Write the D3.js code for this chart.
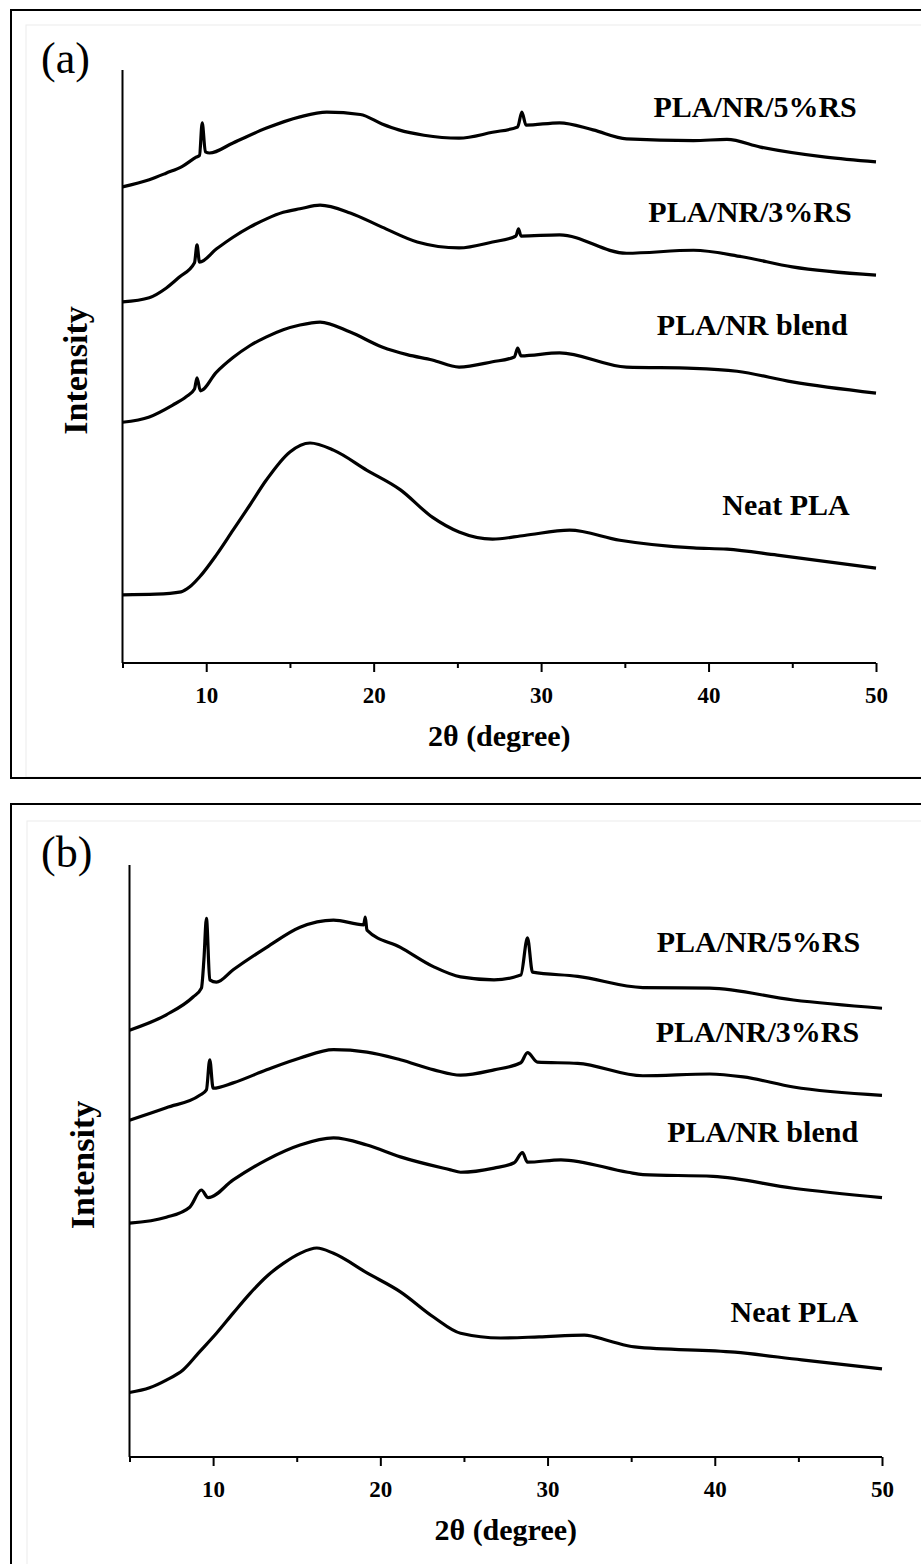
<!DOCTYPE html>
<html>
<head>
<meta charset="utf-8">
<script src="https://cdn.jsdelivr.net/npm/d3@7"></script>
<style>
body { margin: 0; background: #fff; }
svg text { font-family: "Liberation Serif", "Times New Roman", serif; fill: #000; }
</style>
</head>
<body>
<script>
// XRD patterns, 2theta (degree) vs intensity (a.u., stacked offsets)

// ---- panel (a)
const neatA_x = [5, 7, 8.5, 9.0, 9.6, 10.6, 11.6, 12.6, 13.6, 15.0, 16.2, 17.6, 19.6, 21.6, 23.5, 25.1, 27.1, 29.0, 31.7, 34.7, 39.1, 41.1, 44.1, 50];
const neatA_y = [11.5, 11.6, 12.0, 12.8, 14.5, 18.2, 22.4, 26.6, 30.9, 35.6, 37.1, 35.9, 32.5, 29.2, 24.6, 22.1, 20.9, 21.5, 22.4, 20.7, 19.4, 19.2, 18.2, 16.0];

const blendA_x = [5, 6.6, 8.0, 8.8, 9.3, 9.45, 9.65, 10.6, 11.6, 12.6, 13.6, 14.6, 15.6, 16.8, 18.6, 20.5, 22.0, 23.5, 25.1, 27.1, 28.4, 28.6, 28.8, 31.1, 35.1, 39.1, 41.7, 45, 50];
const blendA_y = [40.6, 41.5, 43.5, 44.9, 46.2, 48.1, 45.9, 49.0, 51.5, 53.5, 55.0, 56.2, 57.0, 57.5, 55.8, 53.3, 52.0, 51.1, 49.9, 50.8, 51.6, 53.1, 51.8, 52.3, 49.9, 49.7, 49.2, 47.4, 45.5];

const rs3A_x = [5, 6.6, 7.6, 8.4, 9.3, 9.45, 9.6, 10.6, 11.6, 12.6, 13.6, 14.6, 15.6, 16.8, 18.6, 20.5, 22.6, 25.1, 27.1, 28.5, 28.65, 28.8, 31.1, 35.1, 39.1, 42, 45, 50];
const rs3A_y = [60.9, 61.6, 63.2, 65.1, 67.5, 70.5, 67.6, 69.8, 71.8, 73.5, 74.9, 76.0, 76.6, 77.2, 75.9, 73.5, 71.0, 70.0, 71.0, 72.0, 73.2, 72.0, 72.2, 69.1, 69.6, 68.5, 66.8, 65.4];

const rs5A_x = [5, 6.6, 7.6, 8.6, 9.4, 9.6, 9.76, 9.95, 10.2, 11.6, 13.6, 15.6, 17.2, 19.2, 20.5, 21.5, 23.0, 25.1, 27.1, 28.6, 28.85, 29.1, 31.1, 33.1, 35.1, 39.1, 41.1, 43.1, 47, 50];
const rs5A_y = [80.3, 81.5, 82.6, 83.8, 85.3, 85.6, 91.1, 86.2, 86.0, 87.7, 90.2, 92.1, 92.9, 92.5, 90.9, 89.9, 89.0, 88.5, 89.5, 90.4, 92.9, 90.7, 91.1, 89.9, 88.4, 88.1, 88.3, 87.0, 85.3, 84.5];

// ---- panel (b)
const neatB_x = [5, 6.2, 7.2, 8.2, 9.2, 10.2, 11.2, 12.2, 13.2, 14.2, 15.2, 16.2, 17.2, 19.2, 21.2, 23.2, 24.8, 27.2, 29.5, 32.2, 33.7, 35.2, 41.2, 45.2, 50];
const neatB_y = [10.9, 11.7, 13.0, 14.7, 17.8, 20.9, 24.3, 27.6, 30.5, 32.7, 34.4, 35.3, 34.4, 31.1, 27.9, 23.6, 20.9, 20.1, 20.3, 20.6, 19.6, 18.6, 17.7, 16.4, 14.9];

const blendB_x = [5, 7.2, 8.6, 9.3, 9.7, 11.2, 13.2, 15.2, 17.2, 19.2, 21.2, 24.2, 24.8, 26.8, 28.0, 28.5, 28.8, 30.8, 34.8, 35.7, 39.9, 44.7, 50];
const blendB_y = [39.5, 40.5, 42.2, 45.1, 43.8, 46.8, 50.2, 52.7, 53.9, 52.7, 50.7, 48.5, 48.1, 48.8, 49.7, 51.4, 49.8, 50.2, 48.1, 47.7, 47.4, 45.4, 43.8];

const rs3B_x = [5, 7.2, 9.2, 9.6, 9.8, 10.0, 11.2, 13.2, 15.2, 17.2, 19.2, 21.2, 23.2, 24.8, 26.8, 28.4, 28.8, 29.4, 31.8, 35.7, 39.7, 41.7, 44.7, 50];
const rs3B_y = [56.9, 59.0, 61.1, 62.0, 67.1, 62.3, 63.2, 65.4, 67.4, 68.8, 68.4, 67.1, 65.4, 64.5, 65.4, 66.6, 68.3, 66.7, 66.5, 64.4, 64.7, 64.2, 62.5, 61.1];

const rs5B_x = [5, 7.2, 8.8, 9.3, 9.45, 9.6, 9.8, 10.2, 11.2, 13.2, 15.2, 17.2, 19.0, 19.1, 19.2, 21.2, 23.2, 24.8, 26.8, 28.4, 28.8, 29.1, 31.8, 35.7, 39.7, 44.7, 50];
const rs5B_y = [72.1, 74.7, 77.7, 79.2, 84.0, 91.0, 80.6, 80.2, 82.3, 86.1, 89.5, 90.7, 89.9, 91.2, 89.0, 86.1, 82.8, 81.1, 80.6, 81.4, 87.7, 81.9, 81.2, 79.3, 79.2, 77.2, 75.8];

const seriesNames = ['Neat PLA', 'PLA/NR blend', 'PLA/NR/3%RS', 'PLA/NR/5%RS'];
const tickValues = [5, 10, 15, 20, 25, 30, 35, 40, 45, 50];
const tickLabels = ['', '10', '', '20', '', '30', '', '40', '', '50'];

const toPoints = (xs, ys) => xs.map((x, i) => ({x: x, y: ys[i]}));

const panels = [
  {
    tag: '(a)', box: {x: 11, y: 10, h: 768}, inner: {x: 26, y: 25, h: 752},
    left: 122.5, right: 876, top: 70, bottom: 663,
    series: [toPoints(neatA_x, neatA_y), toPoints(blendA_x, blendA_y), toPoints(rs3A_x, rs3A_y), toPoints(rs5A_x, rs5A_y)],
    // label anchors (end of text, baseline) in data units
    labelAt: [[48.43, 25.0], [48.31, 55.3], [48.55, 74.4], [48.85, 92.1]]
  },
  {
    tag: '(b)', box: {x: 11, y: 804, h: 800}, inner: {x: 27, y: 821, h: 800},
    left: 129.5, right: 882, top: 865, bottom: 1457,
    series: [toPoints(neatB_x, neatB_y), toPoints(blendB_x, blendB_y), toPoints(rs3B_x, rs3B_y), toPoints(rs5B_x, rs5B_y)],
    labelAt: [[48.57, 22.8], [48.57, 53.2], [48.63, 70.1], [48.69, 85.3]]
  }
];

const svg = d3.select('body').append('svg')
  .attr('width', 921)
  .attr('height', 1564);

svg.append('rect').attr('width', 921).attr('height', 1564).attr('fill', '#fff');

panels.forEach(p => {
  const g = svg.append('g');

  // outer frame + faint inner frame
  g.append('rect')
    .attr('x', p.inner.x).attr('y', p.inner.y)
    .attr('width', 1000).attr('height', p.inner.h)
    .attr('fill', 'none').attr('stroke', '#ececec').attr('stroke-width', 1);
  g.append('rect')
    .attr('x', p.box.x).attr('y', p.box.y)
    .attr('width', 1000).attr('height', p.box.h)
    .attr('fill', 'none').attr('stroke', '#000').attr('stroke-width', 2);

  // scales
  const xscale = d3.scaleLinear().domain([5, 50]).range([p.left, p.right]);
  const yscale = d3.scaleLinear().domain([0, 100]).range([p.bottom, p.top]);

  // x axis
  const xaxis = d3.axisBottom(xscale)
    .tickValues(tickValues)
    .tickSize(0)
    .tickFormat((d, i) => tickLabels[i]);
  const gx = g.append('g')
    .attr('transform', `translate(0,${p.bottom})`)
    .call(xaxis);
  gx.select('.domain').attr('stroke', '#000').attr('stroke-width', 2)
    .attr('d', `M${p.left},0H${p.right}`);
  gx.selectAll('.tick line')
    .attr('stroke', '#000').attr('stroke-width', 2)
    .attr('y2', (d, i) => tickLabels[i] === '' ? 5 : 9);
  gx.selectAll('.tick text')
    .attr('y', 40).attr('dy', 0)
    .attr('font-size', 23).attr('font-weight', 'bold')
    .style('font-family', '"Liberation Serif", "Times New Roman", serif');

  // y axis: plain line, no ticks
  g.append('line')
    .attr('x1', p.left).attr('x2', p.left)
    .attr('y1', p.top).attr('y2', p.bottom)
    .attr('stroke', '#000').attr('stroke-width', 2);

  // axis titles
  g.append('text')
    .attr('x', (p.left + p.right) / 2).attr('y', p.bottom + 83)
    .attr('text-anchor', 'middle')
    .attr('font-size', 30).attr('font-weight', 'bold')
    .text('2θ (degree)');
  g.append('text')
    .attr('transform', `translate(${p.left - 36},${(p.top + p.bottom) / 2 + 4}) rotate(-90)`)
    .attr('text-anchor', 'middle')
    .attr('font-size', 34).attr('font-weight', 'bold')
    .text('Intensity');

  // panel tag
  g.append('text')
    .attr('x', 41).attr('y', p.box.y + 63)
    .attr('font-size', 44)
    .text(p.tag);

  // patterns
  const line = d3.line()
    .x(d => xscale(d.x))
    .y(d => yscale(d.y))
    .curve(d3.curveMonotoneX);

  g.selectAll('path.pattern')
    .data(p.series)
    .join('path')
    .attr('class', 'pattern')
    .attr('d', line)
    .attr('fill', 'none')
    .attr('stroke', '#000')
    .attr('stroke-width', 3.2)
    .attr('stroke-linejoin', 'round');

  // series labels
  g.selectAll('text.label')
    .data(seriesNames)
    .join('text')
    .attr('class', 'label')
    .attr('x', (d, i) => xscale(p.labelAt[i][0]))
    .attr('y', (d, i) => yscale(p.labelAt[i][1]))
    .attr('text-anchor', 'end')
    .attr('font-size', 30).attr('font-weight', 'bold')
    .text(d => d);
});
</script>
</body>
</html>
